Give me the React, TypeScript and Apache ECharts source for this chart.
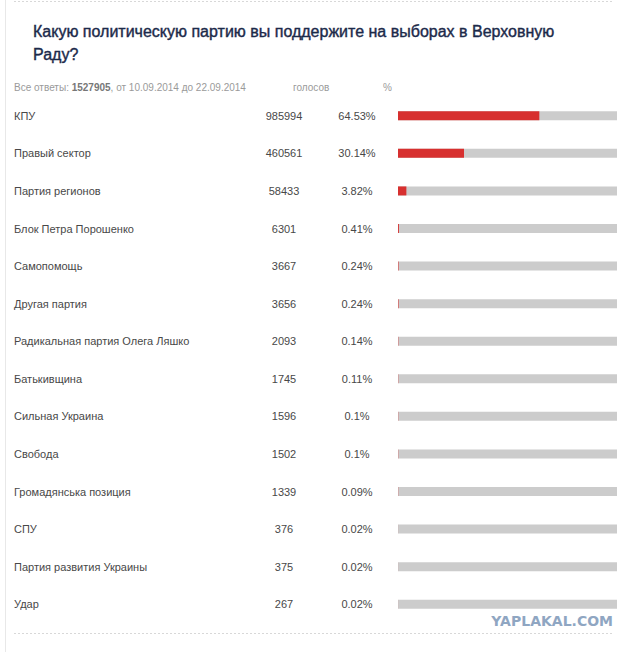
import React, { useEffect, useRef } from "react";
import * as echarts from "echarts";

const parties = [
  "КПУ",
  "Правый сектор",
  "Партия регионов",
  "Блок Петра Порошенко",
  "Самопомощь",
  "Другая партия",
  "Радикальная партия Олега Ляшко",
  "Батькивщина",
  "Сильная Украина",
  "Свобода",
  "Громадянська позиция",
  "СПУ",
  "Партия развития Украины",
  "Удар",
];
const votes = [985994, 460561, 58433, 6301, 3667, 3656, 2093, 1745, 1596, 1502, 1339, 376, 375, 267];
const percents = [64.53, 30.14, 3.82, 0.41, 0.24, 0.24, 0.14, 0.11, 0.1, 0.1, 0.09, 0.02, 0.02, 0.02];
const percentLabels = ["64.53%", "30.14%", "3.82%", "0.41%", "0.24%", "0.24%", "0.14%", "0.11%", "0.1%", "0.1%", "0.09%", "0.02%", "0.02%", "0.02%"];

const titleText = "Какую политическую партию вы поддержите на выборах в Верховную\nРаду?";
const totalVotes = "1527905";
const periodText = ", от 10.09.2014 до 22.09.2014";

const FONT = "'Liberation Sans', Arial, sans-serif";

export default function App() {
  const ref = useRef<HTMLDivElement>(null);
  useEffect(() => {
    if (!ref.current) return;
    const chart = echarts.init(ref.current, null, { renderer: "svg" });
    const gridLeft = 398;
    const catAxis = (data: string[], margin: number, align: string, color: string) => ({
      type: "category",
      data,
      inverse: true,
      position: "left",
      axisLine: { show: false },
      axisTick: { show: false },
      splitLine: { show: false },
      axisLabel: {
        margin,
        align,
        color,
        fontSize: 11,
        fontFamily: FONT,
      },
    });
    chart.setOption({
      animation: false,
      backgroundColor: "#ffffff",
      title: {
        text: titleText,
        left: 28,
        top: 15,
        textStyle: {
          fontFamily: FONT,
          fontSize: 16,
          fontWeight: "normal",
          color: "#1c2a4a",
          lineHeight: 23,
          textBorderColor: "#1c2a4a",
          textBorderWidth: 0.4,
        },
      },
      grid: { left: gridLeft, right: 23, top: 97, bottom: 29, containLabel: false },
      xAxis: { type: "value", min: 0, max: 100, show: false },
      yAxis: [
        catAxis(parties, gridLeft - 14, "left", "#484848"),
        catAxis(votes.map(String), gridLeft - 284, "center", "#484848"),
        catAxis(percentLabels, gridLeft - 357, "center", "#484848"),
      ],
      series: [
        {
          type: "bar",
          data: percents,
          yAxisIndex: 0,
          barWidth: 9,
          itemStyle: { color: "#d7302f" },
          showBackground: true,
          backgroundStyle: { color: "#cccccc" },
        },
      ],
      graphic: [
        {
          type: "line",
          shape: { x1: 5.5, y1: 0, x2: 5.5, y2: 652 },
          style: { stroke: "#e8e8e8", lineWidth: 1 },
        },
        {
          type: "line",
          shape: { x1: 14, y1: 1.5, x2: 612, y2: 1.5 },
          style: { stroke: "#d8d8d8", lineWidth: 1, lineDash: [2, 2] },
        },
        {
          type: "line",
          shape: { x1: 14, y1: 633.5, x2: 612, y2: 633.5 },
          style: { stroke: "#d8d8d8", lineWidth: 1, lineDash: [2, 2] },
        },
        {
          type: "text",
          left: 14,
          top: 82,
          style: {
            text: "{n|Все ответы: }{b|" + totalVotes + "}{n|" + periodText + "}",
            rich: {
              n: { fontSize: 10, fontFamily: FONT, fill: "#9a9a9a" },
              b: { fontSize: 10, fontFamily: FONT, fill: "#777777", fontWeight: "bold" },
            },
          },
        },
        {
          type: "text",
          left: 293,
          top: 82,
          style: { text: "голосов", fontSize: 10, fontFamily: FONT, fill: "#9a9a9a" },
        },
        {
          type: "text",
          left: 383,
          top: 82,
          style: { text: "%", fontSize: 10, fontFamily: FONT, fill: "#9a9a9a" },
        },
        {
          type: "text",
          right: 27,
          top: 614,
          style: {
            text: "YAPLAKAL.COM",
            fontSize: 14,
            fontWeight: "bold",
            fontFamily: "'DejaVu Sans', sans-serif",
            fill: "#8fa6c2",
          },
        },
      ],
    });
    return () => chart.dispose();
  }, []);
  return (
    <div
      ref={ref}
      style={{ position: "fixed", left: 0, top: 0, width: 640, height: 652, background: "#fff" }}
    />
  );
}
